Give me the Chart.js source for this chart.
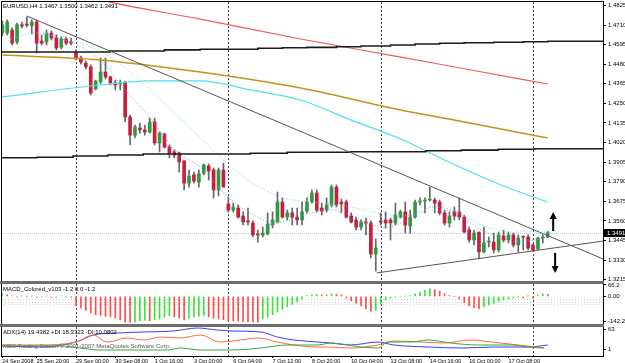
<!DOCTYPE html>
<html>
<head>
<meta charset="utf-8">
<script src="https://cdn.jsdelivr.net/npm/chart.js@4.4.1/dist/chart.umd.min.js"></script>
<style>
  html, body { margin: 0; padding: 0; background: #fff; }
  #wrap { position: relative; width: 625px; height: 363px; overflow: hidden; background: #fff; }
  #wrap canvas { position: absolute; left: 0; }
</style>
</head>
<body>
<div id="wrap">
  <canvas id="main" width="625" height="283" style="top:0;width:625px;height:283px"></canvas>
  <canvas id="macd" width="625" height="43" style="top:283px;width:625px;height:43px"></canvas>
  <canvas id="adx" width="625" height="37" style="top:326px;width:625px;height:37px"></canvas>
</div>
<script>
// EURUSD H4 candles (bar 0 = 24 Sep 16:00)
const opens = [
  1.4663, 1.4663, 1.4681, 1.4610, 1.4711, 1.4711, 1.4705, 1.4728, 1.4616, 1.4610,
  1.4663, 1.4634, 1.4581, 1.4628, 1.4610, 1.4546, 1.4517, 1.4487, 1.4464, 1.4335,
  1.4376, 1.4434, 1.4405, 1.4370, 1.4364, 1.4370, 1.4170, 1.4064, 1.4106, 1.4094,
  1.4082, 1.4141, 1.4018, 1.4070, 1.3994, 1.3965, 1.3959, 1.3912, 1.3782, 1.3830,
  1.3788, 1.3841, 1.3883, 1.3859, 1.3742, 1.3859, 1.3660, 1.3624, 1.3636, 1.3589,
  1.3560, 1.3548, 1.3478, 1.3478, 1.3483, 1.3536, 1.3554, 1.3671, 1.3583, 1.3607,
  1.3583, 1.3566, 1.3618, 1.3671, 1.3724, 1.3636, 1.3624, 1.3654, 1.3759, 1.3671,
  1.3671, 1.3589, 1.3566, 1.3524, 1.3554, 1.3548, 1.3366, 1.3560, 1.3566, 1.3566,
  1.3548, 1.3583, 1.3613, 1.3530, 1.3583, 1.3671, 1.3677, 1.3683, 1.3683, 1.3671,
  1.3607, 1.3548, 1.3613, 1.3613, 1.3583, 1.3507, 1.3448, 1.3495, 1.3378, 1.3436,
  1.3436, 1.3390, 1.3472, 1.3448, 1.3478, 1.3419, 1.3466, 1.3466, 1.3419, 1.3396,
  1.3460, 1.3467
];
const highs = [
  1.4734, 1.4740, 1.4693, 1.4722, 1.4728, 1.4757, 1.4740, 1.4740, 1.4652, 1.4681,
  1.4675, 1.4652, 1.4640, 1.4640, 1.4634, 1.4564, 1.4528, 1.4499, 1.4476, 1.4387,
  1.4517, 1.4517, 1.4411, 1.4387, 1.4387, 1.4381, 1.4182, 1.4123, 1.4135, 1.4123,
  1.4164, 1.4164, 1.4082, 1.4076, 1.4006, 1.3977, 1.3965, 1.3918, 1.3859, 1.3847,
  1.3859, 1.3895, 1.3895, 1.3871, 1.3871, 1.3900, 1.3701, 1.3665, 1.3654, 1.3613,
  1.3636, 1.3560, 1.3507, 1.3524, 1.3607, 1.3613, 1.3730, 1.3695, 1.3624, 1.3636,
  1.3636, 1.3671, 1.3695, 1.3742, 1.3742, 1.3665, 1.3695, 1.3771, 1.3771, 1.3689,
  1.3683, 1.3607, 1.3583, 1.3566, 1.3577, 1.3560, 1.3454, 1.3607, 1.3613, 1.3577,
  1.3665, 1.3624, 1.3671, 1.3624, 1.3683, 1.3695, 1.3695, 1.3759, 1.3695, 1.3683,
  1.3624, 1.3613, 1.3642, 1.3695, 1.3595, 1.3524, 1.3507, 1.3495, 1.3524, 1.3466,
  1.3489, 1.3495, 1.3507, 1.3495, 1.3489, 1.3478, 1.3470, 1.3478, 1.3425, 1.3466,
  1.3478, 1.3500
];
const lows = [
  1.4646, 1.4652, 1.4593, 1.4599, 1.4693, 1.4699, 1.4657, 1.4546, 1.4593, 1.4593,
  1.4622, 1.4564, 1.4570, 1.4593, 1.4593, 1.4505, 1.4481, 1.4452, 1.4299, 1.4329,
  1.4364, 1.4393, 1.4358, 1.4329, 1.4329, 1.4141, 1.4006, 1.4047, 1.4076, 1.4064,
  1.4076, 1.4006, 1.3965, 1.3988, 1.3930, 1.3930, 1.3847, 1.3742, 1.3759, 1.3782,
  1.3759, 1.3830, 1.3800, 1.3695, 1.3707, 1.3759, 1.3612, 1.3612, 1.3577, 1.3536,
  1.3536, 1.3466, 1.3436, 1.3466, 1.3478, 1.3519, 1.3548, 1.3577, 1.3566, 1.3536,
  1.3536, 1.3536, 1.3607, 1.3665, 1.3612, 1.3595, 1.3612, 1.3642, 1.3642, 1.3607,
  1.3577, 1.3548, 1.3507, 1.3507, 1.3478, 1.3343, 1.3266, 1.3536, 1.3519, 1.3448,
  1.3536, 1.3577, 1.3489, 1.3489, 1.3577, 1.3654, 1.3607, 1.3677, 1.3607, 1.3595,
  1.3536, 1.3524, 1.3566, 1.3566, 1.3489, 1.3436, 1.3419, 1.3337, 1.3372, 1.3407,
  1.3372, 1.3378, 1.3436, 1.3431, 1.3407, 1.3378, 1.3390, 1.3390, 1.3384, 1.3390,
  1.3431, 1.3462
];
const closes = [
  1.4711, 1.4728, 1.4604, 1.4711, 1.4705, 1.4710, 1.4728, 1.4604, 1.4604, 1.4663,
  1.4634, 1.4575, 1.4628, 1.4604, 1.4604, 1.4517, 1.4493, 1.4464, 1.4311, 1.4381,
  1.4434, 1.4405, 1.4370, 1.4358, 1.4370, 1.4170, 1.4064, 1.4111, 1.4094, 1.4082,
  1.4141, 1.4018, 1.4076, 1.3994, 1.3959, 1.3947, 1.3906, 1.3782, 1.3824, 1.3794,
  1.3836, 1.3889, 1.3853, 1.3742, 1.3859, 1.3759, 1.3624, 1.3642, 1.3583, 1.3554,
  1.3554, 1.3478, 1.3477, 1.3489, 1.3542, 1.3566, 1.3671, 1.3583, 1.3607, 1.3583,
  1.3566, 1.3613, 1.3671, 1.3724, 1.3624, 1.3618, 1.3654, 1.3759, 1.3654, 1.3660,
  1.3583, 1.3554, 1.3524, 1.3554, 1.3548, 1.3366, 1.3401, 1.3554, 1.3548, 1.3548,
  1.3595, 1.3613, 1.3536, 1.3583, 1.3671, 1.3672, 1.3678, 1.3684, 1.3665, 1.3607,
  1.3548, 1.3589, 1.3589, 1.3583, 1.3495, 1.3448, 1.3489, 1.3378, 1.3431, 1.3437,
  1.3390, 1.3478, 1.3448, 1.3478, 1.3419, 1.3460, 1.3465, 1.3401, 1.3390, 1.3460,
  1.3466, 1.3491
];

const titleText = 'EURUSD,H4 1.3467 1.3500 1.3462 1.3491';
const lastPrice = 1.3491;
const priceTicks = [1.4825, 1.4710, 1.4595, 1.4480, 1.4365, 1.4250, 1.4135, 1.4020,
                    1.3905, 1.3790, 1.3675, 1.3560, 1.3445, 1.3330, 1.3215];
const weekStarts = [15, 46, 77, 108];
const dateTickIdx = [0, 7, 15, 23, 31, 39, 47, 55, 63, 71, 79, 87, 95, 103];
const dateLabels = ['24 Sep 2008', '25 Sep 20:00', '29 Sep 00:00', '30 Sep 08:00', '1 Oct 16:00',
  '3 Oct 00:00', '6 Oct 04:00', '7 Oct 12:00', '8 Oct 20:00', '10 Oct 04:00', '13 Oct 08:00',
  '14 Oct 16:00', '16 Oct 00:00', '17 Oct 08:00'];

// moving averages (bar index / price)
const maRedIdx = [12, 21.9, 40.3, 60.7, 81.1, 95.4, 111];
const maRed = [1.4916, 1.4845, 1.4745, 1.4628, 1.4522, 1.4446, 1.4364];
const maGoldIdx = [0, 19.9, 40.3, 60.7, 81.1, 90.9, 111];
const maGold = [1.4534, 1.4505, 1.4434, 1.4340, 1.4211, 1.4158, 1.4047];
const maCyanIdx = [0, 19.9, 30.1, 40.3, 50.5, 60.7, 70.9, 81.1, 91.3, 101.5, 111];
const maCyan = [1.4288, 1.4358, 1.4382, 1.4382, 1.4329, 1.4270, 1.4153, 1.4041, 1.3900, 1.3771, 1.3671];
const maCyanDotIdx = [0, 6.2, 11.7, 16.8, 21.9, 30.1, 37.2, 49.1, 56.6, 65.4, 70.9, 75.6, 81.1, 88.7, 92.8, 97.5, 104.2, 111];
const maCyanDot = [1.4605, 1.4663, 1.4646, 1.4593, 1.4522, 1.4329, 1.4135, 1.3818, 1.3701, 1.3665,
                   1.3642, 1.3613, 1.3589, 1.3624, 1.3607, 1.3536, 1.3495, 1.3495];
const maPurpleIdx = [8.3, 15.2, 19.9, 25, 30.1, 35.6, 40.3, 45.8, 50.5, 55.2, 58.7, 62.8, 66.8, 70.9,
                     75, 78.1, 81.1, 87.9, 92.3, 97.5, 105.6, 111];
const maPurple = [1.4663, 1.4593, 1.4505, 1.4329, 1.4164, 1.3965, 1.3877, 1.3701, 1.3607, 1.3548, 1.3566,
                  1.3607, 1.3624, 1.3595, 1.3542, 1.3519, 1.3548, 1.3642, 1.3613, 1.3507, 1.3437, 1.3466];
// daily levels drawn as steps
const upperStepIdx = [-0.06, 21.9, 33, 40.3, 52, 57, 62, 68, 73, 79, 84, 89, 94, 100, 106, 111, 117, 122.24];
const upperStep = [1.4546, 1.4552, 1.4558, 1.4564, 1.4568, 1.4574, 1.4577, 1.4579, 1.4583, 1.4587,
                   1.4593, 1.4599, 1.4603, 1.4606, 1.4609, 1.4612, 1.4615, 1.4615];
const lowerStepIdx = [-0.06, 7, 14.4, 21.5, 28.7, 50.5, 58, 70.9, 86.2, 93.4, 100.9, 108.3, 115.2, 122.24];
const lowerStep = [1.3928, 1.3931, 1.3934, 1.3941, 1.3947, 1.3953, 1.3957, 1.3963, 1.3966, 1.3972,
                   1.3976, 1.3981, 1.3984, 1.3984];
// trend lines
const trendDownIdx = [5, 122.24];
const trendDown = [1.4763, 1.3337];
const trendUpIdx = [76.2, 122.24];
const trendUp = [1.3255, 1.3442];
// arrows: [bar index, tail price, head price]
const arrowUp = [112.1, 1.3501, 1.3613];
const arrowDown = [112.5, 1.3372, 1.3255];

// MACD histogram per bar
const macdHist = [
  15, 10, 3, -2, 2, -3, 1, -5, -3, 2,
  -6, -4, 3, -2, -4, -55, -66, -80, -95, -105,
  -110, -115, -118, -125, -135, -148, -150, -148, -142, -138,
  -140, -135, -130, -120, -110, -118, -125, -135, -128, -120,
  -115, -110, -118, -125, -130, -134, -138, -141, -143, -145,
  -146, -147, -148, -130, -120, -105, -90, -75, -60, -45,
  -30, -15, 5, 10, 12, 8, 10, 15, 12, 8,
  -10, -25, -40, -55, -70, -85, -80, -45, -20, -10,
  -5, -3, 2, 5, 15, 25, 35, 45, 40, 30,
  15, 5, 0, -15, -35, -55, -65, -70, -60, -50,
  -40, -30, -20, -15, -10, -5, -8, 5, -10, 8,
  15, 12
];
const macdTicks = [66.2, 0, -142.2];
const macdTickLabels = ['66.2', '0.00', '-142.2'];
const macdLevels = [-15, -30, -45];

// ADX(14) lines
const adxIdx = [0, 8, 15, 18.5, 23.4, 28.7, 34.8, 39.7, 43.8, 47, 52.6, 56, 59.3, 64.2, 66.8, 70.9, 76.4, 79.7, 86.6, 93.4, 100, 107, 111];
const adxMain = [12, 9, 24, 45, 51, 54, 57, 66, 60, 57, 54, 39, 30, 24, 21, 15, 24, 15, 9, 6, 9, 9, 15];
const adxOrangeIdx = [0, 8, 15, 18.5, 21.3, 25.4, 28.7, 32.2, 36.2, 40.3, 44.4, 48.5, 52, 56, 59.3, 64.2, 66.8, 70.9, 76.4, 79.7, 85.2, 89.9, 95.4, 99.5, 105, 110.3];
const adxOrange = [15, 15, 24, 45, 24, 36, 30, 39, 36, 45, 24, 30, 36, 24, 15, 9, 9, 6, 15, 27, 24, 21, 30, 24, 15, 6];
const adxGreenIdx = [0, 12, 15.8, 19.9, 33.6, 36.2, 40.3, 47, 52.6, 58, 64.2, 66.8, 73, 76.4, 78.5, 83.2, 86.6, 91.3, 96.8, 103.6, 107, 110.3];
const adxGreen = [12, 12, 6, 0, 0, 6, 0, 0, 6, 15, 15, 21, 9, 6, 24, 24, 30, 21, 15, 15, 9, 6];
const adxTicks = [63, 1];

// ---- drawing ----
const X_MIN = -0.06, X_MAX = 122.24;
const FONT = 'Liberation Sans, Arial, sans-serif';
Chart.defaults.font.family = FONT;
Chart.defaults.font.size = 6;
Chart.defaults.color = '#000';
Chart.defaults.animation = false;

const pts = (xs, ys) => xs.map((x, k) => ({ x: x, y: ys[k] }));
const bars = opens.map((_, i) => i);

const fixRightAxis = (s) => { s.width = 22; s.paddingTop = 0; s.paddingBottom = 0; };

const mt4 = {
  id: 'mt4',
  beforeDraw(chart) {
    const c = chart.ctx;
    c.save();
    c.fillStyle = '#fff';
    c.fillRect(0, 0, chart.width, chart.height);
    c.restore();
  },
  beforeDatasetsDraw(chart, args, o) {
    const c = chart.ctx, a = chart.chartArea, x = chart.scales.x, y = chart.scales.y;
    c.save();
    if (o.bid != null) {
      const py = Math.round(y.getPixelForValue(o.bid)) + 0.5;
      c.strokeStyle = '#b4d0cc';
      c.setLineDash([1, 1]);
      c.beginPath(); c.moveTo(a.left, py); c.lineTo(a.right, py); c.stroke();
    }
    (o.levels || []).forEach(v => {
      const py = Math.round(y.getPixelForValue(v)) + 0.5;
      c.strokeStyle = '#cfcfcf';
      c.setLineDash([1, 2]);
      c.beginPath(); c.moveTo(a.left, py); c.lineTo(a.right, py); c.stroke();
    });
    c.strokeStyle = '#444';
    c.lineWidth = 1;
    c.setLineDash([2, 2]);
    weekStarts.forEach(w => {
      const px = Math.round(x.getPixelForValue(w)) + 0.5;
      c.beginPath(); c.moveTo(px, a.top); c.lineTo(px, a.bottom); c.stroke();
    });
    c.setLineDash([]);
    (o.backTexts || []).forEach(t => {
      c.font = '6px ' + FONT;
      c.fillStyle = t.color || '#000';
      c.textBaseline = 'top';
      c.fillText(t.text, a.left + t.dx, a.top + t.dy);
    });
    c.restore();
  },
  afterDraw(chart, args, o) {
    const c = chart.ctx, a = chart.chartArea, x = chart.scales.x, y = chart.scales.y;
    c.save();
    // frame
    c.strokeStyle = '#000';
    c.lineWidth = 1;
    c.strokeRect(a.left - 0.5, a.top - 0.5, a.right - a.left + 1, a.bottom - a.top + 1);
    // window separators
    c.fillStyle = '#6e6e6e';
    (o.bands || []).forEach(b => c.fillRect(0, b[0], a.right + 1, b[1]));
    // titles
    (o.texts || []).forEach(t => {
      c.font = '6px ' + FONT;
      c.fillStyle = t.color || '#000';
      c.textBaseline = 'top';
      c.fillText(t.text, a.left + t.dx, a.top + t.dy);
    });
    // arrows
    (o.arrows || []).forEach(ar => {
      const px = x.getPixelForValue(ar[0]);
      const p0 = y.getPixelForValue(ar[1]), p1 = y.getPixelForValue(ar[2]);
      const dir = p1 < p0 ? -1 : 1;
      c.strokeStyle = '#000';
      c.fillStyle = '#000';
      c.lineWidth = 2;
      c.beginPath(); c.moveTo(px, p0); c.lineTo(px, p1 - dir * 6); c.stroke();
      c.beginPath();
      c.moveTo(px, p1);
      c.lineTo(px - 3.5, p1 - dir * 7);
      c.lineTo(px + 3.5, p1 - dir * 7);
      c.closePath(); c.fill();
    });
    // current price box
    if (o.bid != null) {
      const py = Math.round(y.getPixelForValue(o.bid));
      c.fillStyle = '#000';
      c.fillRect(a.right + 1, py - 4, 21, 8);
      c.fillStyle = '#fff';
      c.font = '6px ' + FONT;
      c.textBaseline = 'middle';
      c.fillText(o.bid.toFixed(4), a.right + 4, py);
    }
    c.restore();
  }
};
Chart.register(mt4);

const GREEN = '#2f9a40', RED = '#c8203c', WICK = '#666';

// main price window
new Chart(document.getElementById('main'), {
  type: 'bar',
  data: {
    datasets: [
      { type: 'line', data: pts(trendDownIdx, trendDown), borderColor: '#555', borderWidth: 1, pointRadius: 0, order: 1 },
      { type: 'line', data: pts(trendUpIdx, trendUp), borderColor: '#555', borderWidth: 1, pointRadius: 0, order: 1 },
      { type: 'line', data: pts(upperStepIdx, upperStep), stepped: 'after', borderColor: '#1a1a1a', borderWidth: 1.6, pointRadius: 0, order: 1 },
      { type: 'line', data: pts(lowerStepIdx, lowerStep), stepped: 'after', borderColor: '#1a1a1a', borderWidth: 1.6, pointRadius: 0, order: 1 },
      { type: 'line', data: pts(maRedIdx, maRed), borderColor: '#f05a5a', borderWidth: 1.2, pointRadius: 0, cubicInterpolationMode: 'monotone', order: 1 },
      { type: 'line', data: pts(maGoldIdx, maGold), borderColor: '#c8901e', borderWidth: 1.5, pointRadius: 0, cubicInterpolationMode: 'monotone', order: 1 },
      { type: 'line', data: pts(maCyanIdx, maCyan), borderColor: '#4de0f0', borderWidth: 1.2, pointRadius: 0, cubicInterpolationMode: 'monotone', order: 1 },
      { type: 'line', data: pts(maCyanDotIdx, maCyanDot), borderColor: '#6ad8f0', borderWidth: 1, borderDash: [1, 2], pointRadius: 0, cubicInterpolationMode: 'monotone', order: 1 },
      { type: 'line', data: pts(maPurpleIdx, maPurple), borderColor: '#8f8fe0', borderWidth: 1, borderDash: [1, 2], pointRadius: 0, cubicInterpolationMode: 'monotone', order: 1 },
      { data: bars.map(i => ({ x: i, y: [opens[i], closes[i]] })),
        backgroundColor: bars.map(i => closes[i] >= opens[i] ? GREEN : RED),
        barThickness: 3, minBarLength: 1, grouped: false, order: 2 },
      { data: bars.map(i => ({ x: i, y: [lows[i], highs[i]] })),
        backgroundColor: WICK, barThickness: 1, grouped: false, order: 3 }
    ]
  },
  options: {
    responsive: false,
    layout: { padding: { left: 2, top: 2, right: 0, bottom: 2 } },
    plugins: {
      legend: { display: false }, tooltip: { enabled: false },
      mt4: {
        bid: lastPrice,
        bands: [[281, 2]],
        texts: [{ text: titleText, dx: 1, dy: 1 }],
        arrows: [arrowUp, arrowDown]
      }
    },
    scales: {
      x: { type: 'linear', min: X_MIN, max: X_MAX, display: false, offset: false, grid: { offset: false } },
      y: {
        position: 'right', min: 1.32075, max: 1.48453,
        afterBuildTicks: s => { s.ticks = priceTicks.map(v => ({ value: v })); },
        afterFit: fixRightAxis,
        ticks: { autoSkip: false, padding: 2, callback: v => Number(v).toFixed(4) },
        grid: { drawOnChartArea: false, drawTicks: true, tickLength: 3, color: '#000' },
        border: { display: false }
      }
    }
  }
});

// MACD window
new Chart(document.getElementById('macd'), {
  type: 'bar',
  data: {
    datasets: [{
      data: bars.map(i => ({ x: i, y: macdHist[i] })),
      backgroundColor: bars.map(i => (i === 0 || macdHist[i] >= macdHist[i - 1]) ? '#3ee23e' : '#ff4d4d'),
      barThickness: 1, grouped: false
    }]
  },
  options: {
    responsive: false,
    layout: { padding: { left: 2, top: 1, right: 0, bottom: 2 } },
    plugins: {
      legend: { display: false }, tooltip: { enabled: false },
      mt4: {
        levels: macdLevels,
        bands: [[0, 1], [41, 2]],
        texts: [{ text: 'MACD_Colored_v103 -1.2 0.0 -1.2', dx: 1, dy: 2 }]
      }
    },
    scales: {
      x: { type: 'linear', min: X_MIN, max: X_MAX, display: false, offset: false, grid: { offset: false } },
      y: {
        position: 'right', min: -159.1, max: 71.8,
        afterBuildTicks: s => { s.ticks = macdTicks.map(v => ({ value: v })); },
        afterFit: fixRightAxis,
        ticks: { autoSkip: false, padding: 2, callback: v => macdTickLabels[macdTicks.indexOf(v)] },
        grid: { drawOnChartArea: false, drawTicks: true, tickLength: 3, color: '#000' },
        border: { display: false }
      }
    }
  }
});

// ADX window with the time axis
new Chart(document.getElementById('adx'), {
  type: 'line',
  data: {
    datasets: [
      { data: pts(adxGreenIdx, adxGreen), borderColor: '#3aa83a', borderWidth: 1, pointRadius: 0, cubicInterpolationMode: 'monotone' },
      { data: pts(adxOrangeIdx, adxOrange), borderColor: '#ff6a3a', borderWidth: 1, pointRadius: 0, cubicInterpolationMode: 'monotone' },
      { data: pts(adxIdx, adxMain), borderColor: '#3a3aff', borderWidth: 1, pointRadius: 0, cubicInterpolationMode: 'monotone' }
    ]
  },
  options: {
    responsive: false,
    layout: { padding: { left: 2, top: 1, right: 0, bottom: 0 } },
    plugins: {
      legend: { display: false }, tooltip: { enabled: false },
      mt4: {
        bands: [[0, 1]],
        backTexts: [{ text: 'MBS Trading Station \u00a9 2001-2007 MetaQuotes Software Corp.', dx: 1, dy: 16, color: '#555' }],
        texts: [{ text: 'ADX(14) 19.4382 +DI:18.3323 -DI:10.0802', dx: 1, dy: 2 }]
      }
    },
    scales: {
      x: {
        type: 'linear', min: X_MIN, max: X_MAX, position: 'bottom', offset: false,
        afterBuildTicks: s => { s.ticks = dateTickIdx.map(v => ({ value: v })); },
        afterFit: s => { s.height = 7; s.paddingLeft = 0; s.paddingRight = 0; },
        ticks: { autoSkip: false, maxRotation: 0, align: 'start', padding: 0, font: { size: 5.5 },
                 callback: v => dateLabels[dateTickIdx.indexOf(v)] },
        grid: { drawOnChartArea: false, drawTicks: true, tickLength: 2, color: '#000', offset: false },
        border: { display: false }
      },
      y: {
        position: 'right', min: -18, max: 69,
        afterBuildTicks: s => { s.ticks = adxTicks.map(v => ({ value: v })); },
        afterFit: fixRightAxis,
        ticks: { autoSkip: false, padding: 2, callback: v => String(v) },
        grid: { drawOnChartArea: false, drawTicks: true, tickLength: 3, color: '#000' },
        border: { display: false }
      }
    }
  }
});
</script>
</body>
</html>
